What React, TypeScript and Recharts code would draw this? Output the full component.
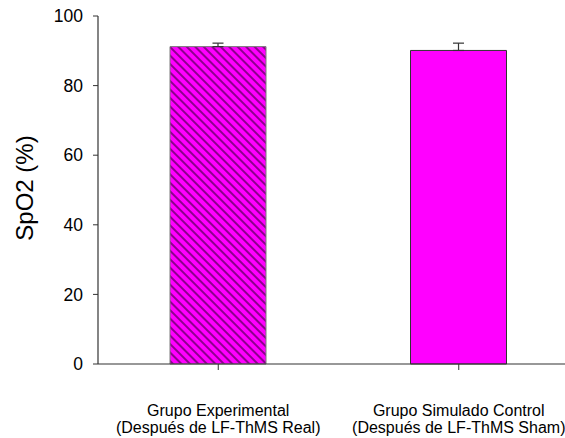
import React from 'react';
import { BarChart, Bar, XAxis, YAxis, ErrorBar, Cell, Label } from 'recharts';

// Groups, mean SpO2 and upper SD
const groups = ['Grupo Experimental', 'Grupo Simulado Control'];
const subtitles = ['(Después de LF-ThMS Real)', '(Después de LF-ThMS Sham)'];
const spo2Mean = [91.2, 90.1];
const spo2SdUp = [1.0, 2.1];
const yTicks = [0, 20, 40, 60, 80, 100];

const fills = ['url(#hatchMagenta)', '#ff00ff'];
const strokes = ['#7a7a7a', '#333333'];

const data = groups.map((g, i) => ({
  group: g,
  sub: subtitles[i],
  value: spo2Mean[i],
  err: [0, spo2SdUp[i]],
}));

const FONT = '"Liberation Sans", Arial, sans-serif';

const GroupTick = (props: any) => {
  const { x, y, payload, index } = props;
  const sub = subtitles[index] ?? '';
  return (
    <text x={x} y={y} textAnchor="middle" fontFamily={FONT} fontSize={16} fill="#000">
      <tspan x={x} dy={45.5}>{payload.value}</tspan>
      <tspan x={x} dy={17}>{sub}</tspan>
    </text>
  );
};

const YTitle = (props: any) => {
  const { viewBox } = props;
  const cx = viewBox.x - 14;
  const cy = viewBox.y + viewBox.height / 2 - 2;
  return (
    <text
      x={cx}
      y={cy}
      transform={`rotate(-90 ${cx} ${cy})`}
      textAnchor="middle"
      dominantBaseline="central"
      fontFamily={FONT}
      fontSize={24}
      fill="#000"
    >
      SpO2 (%)
    </text>
  );
};

export default function App() {
  return (
    <div
      style={{
        position: 'absolute',
        left: 0,
        top: 0,
        width: 565,
        height: 438,
        overflow: 'hidden',
        background: '#fff',
      }}
    >
      <svg width={0} height={0} style={{ position: 'absolute' }}>
        <defs>
          <pattern
            id="hatchMagenta"
            patternUnits="userSpaceOnUse"
            width={6}
            height={6}
            patternTransform="rotate(45)"
          >
            <rect x={0} y={0} width={6} height={6} fill="#ff00ff" />
            <line x1={0} y1={3} x2={6} y2={3} stroke="#000" strokeWidth={0.9} />
          </pattern>
        </defs>
      </svg>
      <BarChart
        width={600}
        height={438}
        data={data}
        margin={{ top: 16, right: 21, bottom: 0, left: 38 }}
      >
        <XAxis
          dataKey="group"
          height={74}
          axisLine={{ stroke: '#333', strokeWidth: 1.2 }}
          tickLine={{ stroke: '#333' }}
          tickSize={6}
          tickMargin={0}
          tick={<GroupTick />}
          interval={0}
        />
        <YAxis
          width={60}
          domain={[0, 100]}
          ticks={yTicks}
          axisLine={{ stroke: '#333', strokeWidth: 1.2 }}
          tickLine={{ stroke: '#333' }}
          tickSize={5}
          tickMargin={10}
          tick={{ fontFamily: FONT, fontSize: 17.5, fill: '#000' }}
        >
          <Label content={<YTitle />} />
        </YAxis>
        <Bar dataKey="value" barSize={96} isAnimationActive={false}>
          {data.map((d, i) => (
            <Cell key={d.group} fill={fills[i]} stroke={strokes[i]} strokeWidth={1} />
          ))}
          <ErrorBar dataKey="err" width={5.5} stroke="#333" strokeWidth={1.2} direction="y" />
        </Bar>
      </BarChart>
    </div>
  );
}
